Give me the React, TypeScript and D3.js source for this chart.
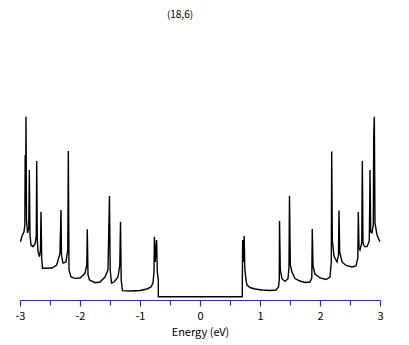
import React from "react";
import * as d3 from "d3";

const title = "(18,6)";
const xLabel = "Energy (eV)";
const majorTicks = [-3, -2, -1, 0, 1, 2, 3];
const minorTicks = [-2.5, -1.5, -0.5, 0.5, 1.5, 2.5];

// Energy (eV) and DOS (arb. units)
const energy = [
  -3.0, -2.975, -2.942, -2.928, -2.922, -2.915, -2.908, -2.9, -2.883, -2.862,
  -2.853, -2.842, -2.825, -2.792, -2.758, -2.737, -2.73, -2.72, -2.708, -2.683,
  -2.667, -2.658, -2.647, -2.633, -2.575, -2.475, -2.397, -2.342, -2.325, -2.317,
  -2.292, -2.242, -2.212, -2.203, -2.192, -2.158, -2.092, -2.008, -1.925, -1.895,
  -1.887, -1.875, -1.85, -1.758, -1.675, -1.592, -1.542, -1.517, -1.505, -1.483,
  -1.442, -1.375, -1.345, -1.333, -1.322, -1.3, -1.175, -1.008, -0.892, -0.825,
  -0.792, -0.775, -0.768, -0.755, -0.732, -0.72, -0.703, -0.703,
  0.697, 0.697, 0.703, 0.713, 0.728, 0.738, 0.758, 0.775, 0.825, 0.908,
  1.025, 1.158, 1.258, 1.3, 1.313, 1.317, 1.33, 1.358, 1.408, 1.458,
  1.475, 1.483, 1.497, 1.525, 1.575, 1.658, 1.742, 1.825, 1.855, 1.863,
  1.875, 1.908, 1.992, 2.092, 2.158, 2.18, 2.187, 2.197, 2.225, 2.275,
  2.3, 2.308, 2.32, 2.358, 2.425, 2.525, 2.592, 2.622, 2.63, 2.642,
  2.658, 2.688, 2.697, 2.708, 2.733, 2.775, 2.813, 2.822, 2.825, 2.837,
  2.858, 2.88, 2.887, 2.897, 2.908, 2.942, 2.99,
];
const dos = [
  0.611, 0.674, 0.722, 0.797, 1.574, 1.019, 2.0, 0.852, 0.708, 0.763,
  1.408, 0.686, 0.574, 0.556, 0.586, 0.674, 1.508, 0.63, 0.5, 0.444,
  0.519, 0.944, 0.43, 0.316, 0.316, 0.319, 0.352, 0.482, 0.963, 0.463,
  0.374, 0.386, 0.519, 1.619, 0.297, 0.219, 0.204, 0.208, 0.26, 0.352,
  0.749, 0.241, 0.186, 0.156, 0.163, 0.219, 0.297, 1.119, 0.297, 0.152,
  0.163, 0.219, 0.352, 0.833, 0.186, 0.067, 0.063, 0.069, 0.086, 0.108,
  0.152, 0.274, 0.667, 0.386, 0.63, 0.274, 0.186, 0,
  0, 0.163, 0.63, 0.386, 0.674, 0.319, 0.186, 0.13, 0.102, 0.086,
  0.074, 0.069, 0.074, 0.108, 0.186, 0.841, 0.3, 0.2, 0.17, 0.2,
  0.33, 1.119, 0.352, 0.274, 0.202, 0.174, 0.158, 0.163, 0.208, 0.752,
  0.341, 0.252, 0.208, 0.191, 0.219, 0.386, 1.613, 0.63, 0.452, 0.386,
  0.463, 0.958, 0.497, 0.386, 0.347, 0.33, 0.341, 0.43, 0.941, 0.541,
  0.519, 0.597, 1.508, 0.597, 0.556, 0.556, 0.62, 1.108, 1.408, 0.72,
  0.708, 0.8, 1.778, 2.0, 0.819, 0.686, 0.611,
];

const W = 409;
const H = 345;

export default function App() {
  const x = d3.scaleLinear().domain([-3, 3]).range([20.5, 380.5]);
  const y = d3.scaleLinear().domain([0, 2]).range([296.7, 116.7]);
  const pts: [number, number][] = energy.map((e, i) => [e, dos[i]]);
  const line = d3
    .line<[number, number]>()
    .x((d) => x(d[0]))
    .y((d) => y(d[1]));
  const axisY = 300.5;
  const blue = "#2a2acc";
  const font = "'Noto Sans CJK JP', 'DejaVu Sans', sans-serif";
  return (
    <svg
      width={W}
      height={H}
      style={{ position: "absolute", left: 0, top: 0, background: "#fff" }}
    >
      <rect x={0} y={0} width={W} height={H} fill="#fff" />
      <text x={180} y={18} fontSize={10} fontFamily={font} textAnchor="middle" fill="#000">
        {title}
      </text>
      <path d={line(pts) || ""} fill="none" stroke="#000" strokeWidth={1.4} strokeLinejoin="miter" />
      <line x1={x(-3)} x2={x(3)} y1={axisY} y2={axisY} stroke={blue} strokeWidth={1.2} />
      {majorTicks.map((t) => (
        <g key={"M" + t}>
          <line x1={x(t)} x2={x(t)} y1={axisY} y2={axisY + 6} stroke={blue} strokeWidth={1.2} />
          <text
            x={x(t)}
            y={320}
            fontSize={11}
            fontFamily={font}
            textAnchor="middle"
            fill="#000"
          >
            {t < 0 ? "-" + Math.abs(t) : String(t)}
          </text>
        </g>
      ))}
      {minorTicks.map((t) => (
        <line key={"m" + t} x1={x(t)} x2={x(t)} y1={axisY} y2={axisY + 5} stroke={blue} strokeWidth={1.2} />
      ))}
      <text x={200.5} y={336} fontSize={11} fontFamily={font} textAnchor="middle" fill="#000">
        {xLabel}
      </text>
    </svg>
  );
}
